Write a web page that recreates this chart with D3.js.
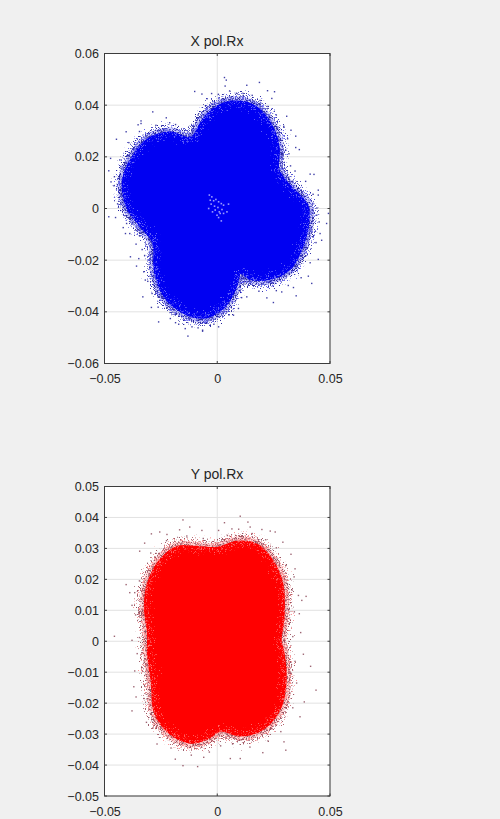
<!DOCTYPE html>
<html><head><meta charset="utf-8">
<script src="https://cdn.jsdelivr.net/npm/d3@7/dist/d3.min.js"></script>
<style>html,body{margin:0;background:#f0f0f0}svg{display:block}text{font-family:"Liberation Sans",Arial,sans-serif;fill:#262626}</style>
</head><body><div id="c"></div>
<script>
const xTicks=[-0.05,0,0.05];
const yTicksX=[-0.06,-0.04,-0.02,0,0.02,0.04,0.06];
const yTicksY=[-0.05,-0.04,-0.03,-0.02,-0.01,0,0.01,0.02,0.03,0.04,0.05];
const xPolCloud=[[-.0106,.0277],[-.0062,.0342],[-.0001,.0393],[.0087,.0413],[.0176,.0388],[.0242,.0316],[.027,.0238],[.027,.0148],[.0323,.0084],[.0397,.0013],[.0403,-.0045],[.0381,-.0134],[.0323,-.0231],[.0235,-.027],[.0146,-.027],[.0102,-.0247],[.008,-.0305],[.0027,-.0382],[-.0062,-.0421],[-.015,-.0401],[-.023,-.0343],[-.0274,-.0247],[-.0283,-.013],[-.0341,-.0065],[-.0398,.0005],[-.0416,.011],[-.0376,.0195],[-.031,.0264],[-.0208,.0292],[-.0133,.0272]];
const yPolCloud=[[-.0001,.03],[.0087,.032],[.0176,.031],[.0242,.0261],[.0286,.0187],[.0292,.0077],[.0279,.0003],[.0292,-.0039],[.0301,-.0126],[.0279,-.0213],[.0204,-.0281],[.0102,-.0303],[.0013,-.0287],[-.0044,-.0313],[-.0119,-.0326],[-.0208,-.0297],[-.0274,-.0232],[-.0288,-.0135],[-.0305,-.0039],[-.0305,.0026],[-.0319,.011],[-.0305,.0187],[-.0252,.0261],[-.0177,.0303],[-.0088,.0303]];
const xPolStray=[[.0032,.0507],[.004,.0497],[.0035,.0474],[.0187,.0488],[.0131,.0477],[-.01,.0453],[-.0068,.0443],[-.0286,.0374],[-.0338,.0339],[-.0338,.0329],[-.0351,.0324],[-.0226,.0351],[-.0211,.0332],[-.0404,.0297],[-.0447,.0268],[-.0473,.0194],[-.0481,.0146],[-.0456,.0123],[-.0471,.0103],[.0412,.0133],[.0429,.0132],[.0448,.0071],[.0448,.0052],[.0348,.028],[.0348,.0236],[.0364,.0228],[.0327,.0303],[.0308,.0357],[.0254,.0452],[.0223,.0456],[.0242,.0426],[-.0481,-.0032],[-.0451,-.0035],[-.0417,-.0074],[-.0407,-.0097],[-.0388,-.0097],[-.036,-.0138],[-.0333,-.0159],[-.0385,-.0187],[-.0348,-.0194],[-.0358,-.0223],[-.0326,-.0245],[-.0319,-.0277],[-.033,-.0342],[-.0289,-.0329],[-.0292,-.0383],[-.026,-.0439],[-.0208,-.0426],[-.0171,-.0448],[-.0142,-.0465],[-.0112,-.0458],[-.013,-.0494],[-.0065,-.0471],[-.0065,-.0475],[-.0031,-.0452],[.0006,-.0458],[.0072,-.0413],[.0094,-.0387],[.0131,-.0342],[.022,-.0346],[.0249,-.0364],[.0286,-.0323],[.035,-.0338],[.0338,-.0306],[.0419,-.029],[.0404,-.0262],[.0448,-.0197],[.0463,-.0123],[.0456,-.0097],[.0485,-.0058],[.0493,-.0019],[.0441,-.0026],
[-.0045,.0425],[-.0025,.0445],[.0005,.0442],[.0055,.0455],[.0085,.0446],[.0115,.0445],[.0155,.0438],[.019,.0418],[.0225,.0395],[.0262,.0362],[.0295,.0318],[.0312,.027],[.0318,.0212],[.0325,.0165],[.0345,.0145],[.0392,.0105],[.0425,.0055],[.0442,.0002],[.0452,-.0052],[.0438,-.0132],[.0412,-.021],[.0372,-.0268],[.0315,-.0298],[.0262,-.0318],[.0185,-.032],[.0118,-.0292],[.0108,-.0345],[.0052,-.0412],[-.0015,-.0448],[-.0085,-.0462],[-.0185,-.0442],[-.0262,-.0382],[-.0308,-.0282],[-.0322,-.0182],[-.0345,-.0105],[-.0402,-.0058],[-.0442,.0018],[-.0458,.0088],[-.0432,.0188],[-.0392,.0255],[-.0345,.0298],[-.0272,.0322],[-.0185,.0325],[-.0105,.0318],[-.0085,.0362],[-.0052,.0398]];
const xPolHole=[[-.0035,.0052],[-.0024,.0045],[-.0031,.0032],[-.0016,.003],[-.0006,.0035],[.0006,.0026],[-.0027,.0017],[-.0012,.0009],[.0003,.0004],[.0018,.0019],[.0028,.0013],[.005,.0017],[-.0009,-.0006],[.0009,-.0013],[.0021,-.0004],[-.0021,-.0013],[-.0001,-.0026],[.0013,-.0019],[.0028,-.0019],[.0006,-.0035],[.0018,-.0048],[.0043,-.0013],[-.0038,0]];
const yPolStray=[[.0102,.0404],[-.0152,.0392],[.0136,.0385],[.0032,.0383],[-.0122,.0369],[-.0167,.036],[-.0255,.0353],[-.0292,.0347],[-.0322,.0317],[-.0344,.0291],[-.0404,.0183],[-.0388,.0157],[-.0366,.0157],[-.0456,.0016],[-.0378,.0116],[.0394,.0145],[.036,.0148],[.0375,.0132],[.0364,.0089],[.037,.0028],[.0327,.0281],[.0291,.032],[.0257,.0353],[.0235,.0356],[.0198,.0361],[.0146,.0369],[.0065,.0363],[.0006,.0358],[-.0068,.0358],[-.0223,.0345],[.0345,.0234],[.0341,.0208],[.0414,-.0081],[.0438,-.0158],[.0382,-.0042],[.0386,-.0196],[.0367,-.0244],[.0304,-.0352],[.0296,-.0325],[.0202,-.036],[.0102,-.0379],[.0058,-.0379],[-.0087,-.0405],[-.0152,-.0402],[-.0186,-.0381],[-.006,-.0375],[-.0267,-.0332],[-.0314,-.0262],[-.0378,-.0225],[-.037,-.0147],[-.036,-.018],[-.0366,-.0096],[-.0355,-.004],[-.0378,.0003],
[.0045,.0342],[.0095,.0362],[.0155,.0348],[.0215,.0328],[.0262,.0302],[.0305,.0245],[.0332,.0165],[.0342,.0095],[.0335,.0015],[.0345,-.0065],[.0352,-.0135],[.0335,-.0215],[.0282,-.0292],[.0225,-.0322],[.0145,-.0342],[.0068,-.0332],[.0015,-.0338],[-.0035,-.0358],[-.0115,-.0368],[-.0205,-.0345],[-.0285,-.028],[-.0325,-.0185],[-.0335,-.0085],[-.0345,.0012],[-.0362,.0085],[-.0345,.0195],[-.0295,.0285],[-.0225,.0325],[-.0135,.034],[-.0062,.0332]];

const W=500,H=819;
const svg=d3.select("#c").append("svg").attr("width",W).attr("height",H);
const defs=svg.append("defs");
const f=defs.append("filter").attr("id","grain").attr("filterUnits","userSpaceOnUse").attr("x",60).attr("y",40).attr("width",320).attr("height",770);
f.append("feTurbulence").attr("type","fractalNoise").attr("baseFrequency",0.7).attr("numOctaves",2).attr("seed",4).attr("result","n");
f.append("feDisplacementMap").attr("in","SourceGraphic").attr("in2","n").attr("scale",24).attr("xChannelSelector","R").attr("yChannelSelector","G");
defs.append("filter").attr("id","soft").append("feGaussianBlur").attr("stdDeviation",0.45);

function panel(o){
  const x=d3.scaleLinear().domain([-0.05,0.05]).range([104.5,330]);
  const y=d3.scaleLinear().domain(o.yDomain).range([o.bottom,o.top]);
  const g=svg.append("g");
  g.append("rect").attr("x",104.5).attr("y",o.top).attr("width",225.5).attr("height",o.bottom-o.top).attr("fill","#fff");
  g.selectAll(".gx").data(xTicks).join("line").attr("x1",d=>x(d)).attr("x2",d=>x(d)).attr("y1",o.top).attr("y2",o.bottom).attr("stroke","#e2e2e2");
  g.selectAll(".gy").data(o.yTicks).join("line").attr("y1",d=>y(d)).attr("y2",d=>y(d)).attr("x1",104.5).attr("x2",330).attr("stroke","#e2e2e2");
  const line=d3.line().x(d=>x(d[0])).y(d=>y(d[1])).curve(d3.curveCatmullRomClosed.alpha(0.5));
  const p=line(o.cloud);
  g.append("path").attr("d",p).attr("fill","none").attr("stroke",o.halo).attr("stroke-width",11).attr("stroke-linejoin","round").attr("opacity",0.3);
  g.append("path").attr("d",p).attr("fill","none").attr("stroke",o.halo).attr("stroke-width",12).attr("stroke-dasharray","1.6 1.1").attr("opacity",0.9).attr("filter","url(#grain)");
  g.append("path").attr("d",p).attr("fill","none").attr("stroke",o.dark).attr("stroke-width",13).attr("stroke-dasharray","1.2 2").attr("opacity",0.9).attr("filter","url(#grain)");
  g.append("path").attr("d",p).attr("fill",o.color).attr("stroke",o.color).attr("stroke-width",3).attr("stroke-linejoin","round").attr("filter","url(#soft)");
  g.append("path").attr("d",p).attr("fill","none").attr("stroke",o.speck).attr("stroke-width",7).attr("stroke-dasharray","1 3.4").attr("opacity",0.55).attr("filter","url(#grain)");
  g.selectAll(".s").data(o.stray).join("rect").attr("x",d=>x(d[0])-.7).attr("y",d=>y(d[1])-.7).attr("width",1.4).attr("height",1.4).attr("fill",o.dark).attr("opacity",.85);
  if(o.hole) g.selectAll(".h").data(o.hole).join("rect").attr("x",d=>x(d[0])-.8).attr("y",d=>y(d[1])-.8).attr("width",1.6).attr("height",1.6).attr("fill","#9a9aff").attr("filter","url(#soft)");
  const ax=d3.axisBottom(x).tickValues(xTicks).tickFormat(d=>d===0?"0":d3.format(".2f")(d)).tickSize(0).tickPadding(11);
  const ay=d3.axisLeft(y).tickValues(o.yTicks).tickFormat(d=>d===0?"0":d3.format(".2f")(d)).tickSize(0).tickPadding(5.5);
  const a1=g.append("g").attr("transform",`translate(0,${o.bottom})`).call(ax);
  const a2=g.append("g").attr("transform","translate(104.5,0)").call(ay);
  [a1,a2].forEach(a=>{a.selectAll(".domain").remove();a.selectAll("text").attr("font-size",12.5).style("font-family",'"Liberation Sans",Arial,sans-serif').attr("fill","#303030");});
  const tk="#404040";
  g.selectAll(".tx").data(xTicks).join("path").attr("d",d=>`M${x(d)},${o.bottom}v-2.5M${x(d)},${o.top}v2.5`).attr("stroke",tk);
  g.selectAll(".ty").data(o.yTicks).join("path").attr("d",d=>`M104.5,${y(d)}h2.5M330,${y(d)}h-2.5`).attr("stroke",tk);
  g.append("rect").attr("x",104.5).attr("y",o.top).attr("width",225.5).attr("height",o.bottom-o.top).attr("fill","none").attr("stroke","#3c3c3c");
  g.append("text").attr("x",217).attr("y",o.top-8).attr("text-anchor","middle").attr("font-size",14).text(o.title);
}
panel({title:"X pol.Rx",top:53.5,bottom:363.5,yDomain:[-0.06,0.06],yTicks:yTicksX,cloud:xPolCloud,stray:xPolStray,hole:xPolHole,color:"#0000f2",dark:"#1c1c96",halo:"#5a5af0",speck:"#c4c4ff"});
panel({title:"Y pol.Rx",top:486.5,bottom:796,yDomain:[-0.05,0.05],yTicks:yTicksY,cloud:yPolCloud,stray:yPolStray,color:"#ff0000",dark:"#8c4a5a",halo:"#ff8a8a",speck:"#ffc4c4"});
</script></body></html>
